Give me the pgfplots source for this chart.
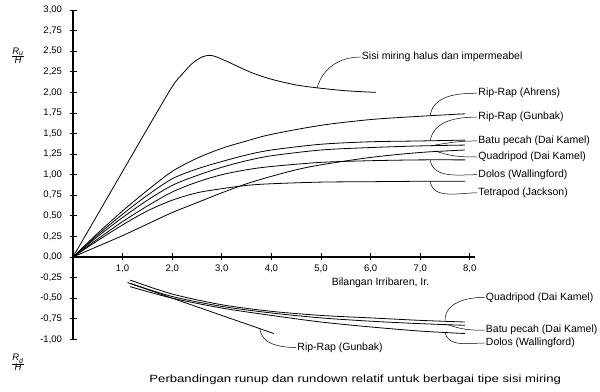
\documentclass[border=0pt]{standalone}
\usepackage{pgfplots}
\pgfplotsset{compat=1.18}
\usepackage{fontspec}
\setmainfont{Liberation Sans}
\begin{document}
\begin{tikzpicture}[font=\fontsize{9.5}{11}\selectfont]
\begin{axis}[
  x=49.6pt, y=82.3pt,
  xmin=0, xmax=8.1, ymin=-1, ymax=3,
  axis lines=middle,
  axis line style={-, line width=1.2pt},
  clip=false,
  xtick={1,2,3,4,5,6,7,8},
  xticklabels={{1,0},{2,0},{3,0},{4,0},{5,0},{6,0},{7,0},{8,0}},
  ytick={-1,-0.75,-0.5,-0.25,0,0.25,0.5,0.75,1,1.25,1.5,1.75,2,2.25,2.5,2.75,3},
  yticklabels={{-1,00},{-0,75},{-0,50},{-0,25},{0,00},{0,25},{0,50},{0,75},{1,00},{1,25},{1,50},{1,75},{2,00},{2,25},{2,50},{2,75},{3,00}},
  hide obscured x ticks=false, hide obscured y ticks=false,
  tick align=center, major tick length=7pt,
  tick style={line width=0.9pt, black},
  yticklabel style={xshift=-4pt},
  xticklabel style={yshift=-1pt},
]
% Sisi miring halus dan impermeabel
\addplot[black, line width=0.8pt, smooth, tension=0.5] coordinates {(0,0) (0.5,0.52) (1,1.04) (1.5,1.56) (2,2.07) (2.2,2.22) (2.4,2.35) (2.6,2.43) (2.75,2.45) (2.9,2.43) (3.2,2.35) (3.6,2.24) (4,2.16) (4.5,2.09) (5,2.05) (5.5,2.02) (6.1,2.0)};
% Rip-Rap (Ahrens)
\addplot[black, line width=0.8pt, smooth] coordinates {(0,0) (0.5,0.29) (1,0.56) (1.5,0.81) (2,1.04) (2.5,1.20) (3,1.32) (3.5,1.41) (4,1.49) (5,1.60) (6,1.67) (7,1.71) (7.9,1.74)};
% Rip-Rap (Gunbak)
\addplot[black, line width=0.8pt, smooth] coordinates {(0,0) (0.5,0.27) (1,0.52) (1.5,0.75) (2,0.95) (2.5,1.07) (3,1.16) (3.5,1.24) (4,1.30) (5,1.37) (6,1.40) (7,1.41) (7.9,1.42)};
% Batu pecah (Dai Kamel)
\addplot[black, line width=0.8pt, smooth] coordinates {(0,0) (0.5,0.25) (1,0.48) (1.5,0.69) (2,0.87) (2.5,0.99) (3,1.09) (3.5,1.17) (4,1.23) (5,1.30) (6,1.33) (7,1.35) (7.9,1.36)};
% Quadripod (Dai Kamel)
\addplot[black, line width=0.8pt, smooth] coordinates {(0,0) (0.5,0.13) (1,0.26) (1.5,0.40) (2,0.54) (2.5,0.66) (3,0.78) (3.5,0.89) (4,0.98) (4.5,1.06) (5,1.12) (6,1.21) (7,1.27) (7.9,1.30)};
% Dolos (Wallingford)
\addplot[black, line width=0.8pt, smooth] coordinates {(0,0) (0.5,0.22) (1,0.43) (1.5,0.62) (2,0.79) (2.5,0.91) (3,1.00) (3.5,1.06) (4,1.10) (5,1.15) (6,1.17) (7,1.18) (7.9,1.18)};
% Tetrapod (Jackson)
\addplot[black, line width=0.8pt, smooth] coordinates {(0,0) (0.5,0.20) (1,0.39) (1.5,0.56) (2,0.69) (2.5,0.78) (3,0.83) (3.5,0.87) (4,0.89) (5,0.91) (6,0.915) (7,0.92) (7.9,0.92)};
% Rundown: Quadripod (Dai Kamel)
\addplot[black, line width=0.8pt, smooth] coordinates {(1.15,-0.28) (2,-0.45) (3,-0.58) (4,-0.66) (5,-0.71) (6,-0.74) (7,-0.77) (7.9,-0.79)};
% Rundown: Batu pecah (Dai Kamel)
\addplot[black, line width=0.8pt, smooth] coordinates {(1.15,-0.32) (2,-0.48) (3,-0.60) (4,-0.68) (5,-0.74) (6,-0.78) (7,-0.81) (7.9,-0.83)};
% Rundown: Dolos (Wallingford)
\addplot[black, line width=0.8pt, smooth] coordinates {(1.15,-0.36) (2,-0.50) (3,-0.62) (4,-0.71) (5,-0.79) (6,-0.85) (7,-0.90) (7.9,-0.93)};
% Rundown: Rip-Rap (Gunbak)
\addplot[black, line width=0.8pt, smooth] coordinates {(1.1,-0.31) (2,-0.50) (3,-0.71) (4.05,-0.93)};

% leaders and labels
\begin{scope}[line width=0.5pt, font=\fontsize{10.5}{12}\selectfont]
\draw (axis cs:4.92,2.05) to[out=75,in=180] (axis cs:5.8,2.43) node[right,inner sep=1pt] {Sisi miring halus dan impermeabel};
\draw (axis cs:7.2,1.72) to[out=80,in=180] (axis cs:8.15,1.99) node[right,inner sep=1pt] {Rip-Rap (Ahrens)};
\draw (axis cs:7.2,1.41) to[out=80,in=180] (axis cs:8.15,1.70) node[right,inner sep=1pt] {Rip-Rap (Gunbak)};
\draw (axis cs:7.3,1.36) to[out=10,in=180] (axis cs:8.15,1.41) node[right,inner sep=1pt] {Batu pecah (Dai Kamel)};
\draw (axis cs:7.3,1.29) to[out=-20,in=180] (axis cs:8.15,1.215) node[right,inner sep=1pt] {Quadripod (Dai Kamel)};
\draw (axis cs:7.2,1.18) to[out=-80,in=180] (axis cs:8.15,1.00) node[right,inner sep=1pt] {Dolos (Wallingford)};
\draw (axis cs:7.2,0.92) to[out=-80,in=180] (axis cs:8.15,0.78) node[right,inner sep=1pt] {Tetrapod (Jackson)};
\draw (axis cs:7.5,-0.77) to[out=90,in=180] (axis cs:8.3,-0.49) node[right,inner sep=1pt] {Quadripod (Dai Kamel)};
\draw (axis cs:7.55,-0.82) to[out=-20,in=180] (axis cs:8.3,-0.89) node[right,inner sep=1pt] {Batu pecah (Dai Kamel)};
\draw (axis cs:7.5,-0.91) to[out=-80,in=180] (axis cs:8.3,-1.045) node[right,inner sep=1pt] {Dolos (Wallingford)};
\draw (axis cs:3.77,-0.86) to[out=-90,in=180] (axis cs:4.5,-1.10) node[right,inner sep=1pt] {Rip-Rap (Gunbak)};
\node at (axis cs:6.2,-0.316) {Bilangan Irribaren, Ir.};
\node at (axis cs:5.69,-1.49) {\scalebox{1.25}[1]{Perbandingan runup dan rundown relatif untuk berbagai tipe sisi miring}};
\end{scope}
\node at (axis cs:-1.11,2.45) {$\frac{\mbox{\itshape R}_{\mbox{\itshape\scriptsize u}}}{\mbox{\itshape H}}$};
\node at (axis cs:-1.11,-1.28) {$\frac{\mbox{\itshape R}_{\mbox{\itshape\scriptsize d}}}{\mbox{\itshape H}}$};
\coordinate (bbSW) at (axis cs:-1.4718,-1.6403);
\coordinate (bbNE) at (axis cs:10.625,3.1227);
\end{axis}
\pgfresetboundingbox
\useasboundingbox (bbSW) rectangle (bbNE);
\end{tikzpicture}
\end{document}
